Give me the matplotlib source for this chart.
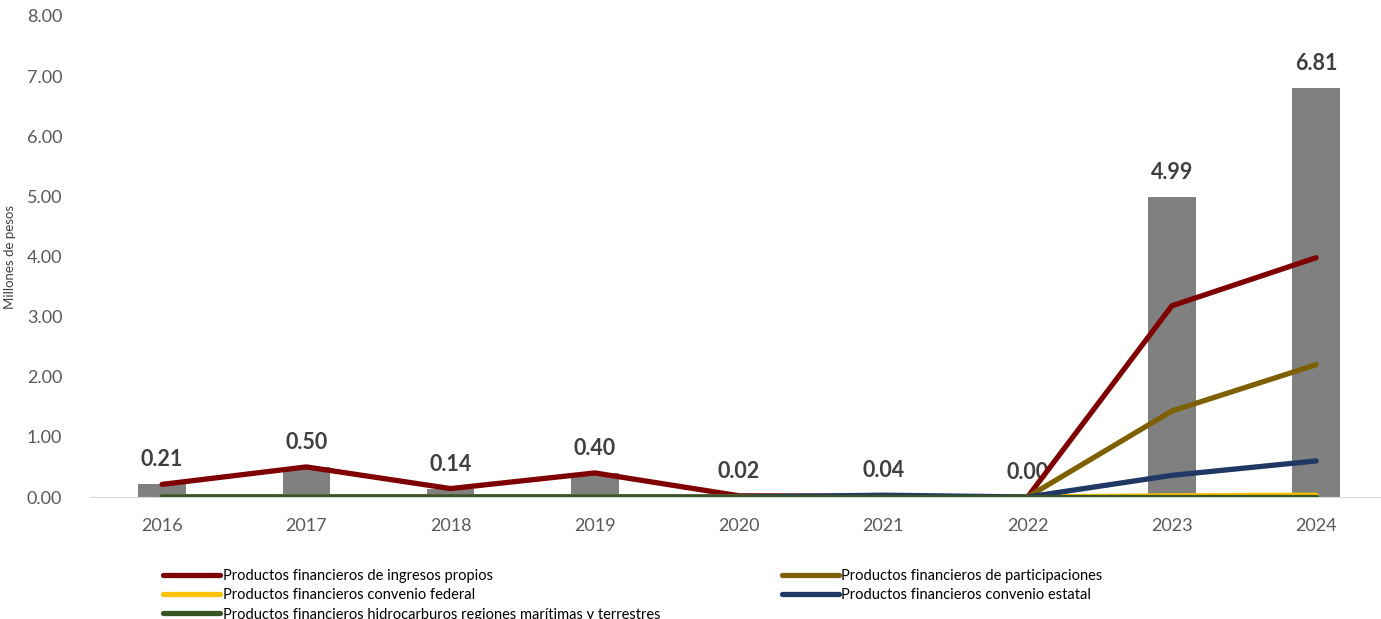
import numpy as np
import matplotlib.pyplot as plt

plt.rcParams['font.family'] = ['Lato', 'DejaVu Sans']

years = ['2016', '2017', '2018', '2019', '2020', '2021', '2022', '2023', '2024']
total = [0.21, 0.50, 0.14, 0.40, 0.02, 0.04, 0.00, 4.99, 6.81]
ingresos_propios = [0.21, 0.50, 0.14, 0.40, 0.02, 0.01, 0.00, 3.18, 3.98]
participaciones = [0.00, 0.00, 0.00, 0.00, 0.00, 0.00, 0.00, 1.43, 2.20]
convenio_federal = [0.00, 0.00, 0.00, 0.00, 0.00, 0.00, 0.00, 0.02, 0.03]
convenio_estatal = [0.00, 0.00, 0.00, 0.00, 0.00, 0.03, 0.00, 0.36, 0.60]
hidrocarburos = [0.00, 0.00, 0.00, 0.00, 0.00, 0.00, 0.00, 0.00, 0.00]

x = np.arange(len(years))

fig = plt.figure(figsize=(13.81, 6.19), dpi=100)
ax = fig.add_axes([90 / 1381, 1 - 497 / 619, 1291 / 1381, 481 / 619])

ax.bar(x, total, width=0.33, color='#808080', zorder=2)
for xi, v in zip(x, total):
    ax.annotate('%.2f' % v, (xi, v), xytext=(0, 10), textcoords='offset points',
                ha='center', va='bottom', fontsize=15.5, fontweight='bold', color='#404040')

lw = 3.8
l1, = ax.plot(x, ingresos_propios, color='#7F0000', lw=lw, solid_capstyle='round', zorder=3)
l2, = ax.plot(x, participaciones, color='#7F6000', lw=lw, solid_capstyle='round', zorder=3)
l3, = ax.plot(x, convenio_federal, color='#FFC000', lw=lw, solid_capstyle='round', zorder=3)
l4, = ax.plot(x, convenio_estatal, color='#1F3864', lw=lw, solid_capstyle='round', zorder=3)
l5, = ax.plot(x, hidrocarburos, color='#375623', lw=lw, solid_capstyle='round', zorder=4)

ax.set_xlim(-0.5, 8.45)
ax.set_ylim(0, 8)
ax.set_yticks(np.arange(0, 9, 1))
ax.set_yticklabels(['%.2f' % t for t in np.arange(0, 9, 1)])
ax.set_xticks(x)
ax.set_xticklabels(years)
ax.tick_params(axis='both', length=0, labelsize=13, labelcolor='#595959')
ax.tick_params(axis='y', pad=20)
ax.tick_params(axis='x', pad=15)
for s in ['top', 'right', 'left']:
    ax.spines[s].set_visible(False)
ax.spines['bottom'].set_color('#D9D9D9')
ax.set_ylabel('Millones de pesos', fontsize=9.5, color='#404040')
ax.yaxis.set_label_coords(-74 / 1291, 0.5)

handles = [l1, l3, l5, l2, l4]
labels = ['Productos financieros de ingresos propios',
          'Productos financieros convenio federal',
          'Productos financieros hidrocarburos regiones marítimas y terrestres',
          'Productos financieros de participaciones',
          'Productos financieros convenio estatal']
fig.legend(handles, labels, ncol=2, loc='upper left', bbox_to_anchor=(156 / 1381, 1 - 562 / 619),
           frameon=False, fontsize=10.5, handlelength=3.9, handletextpad=0.2,
           labelspacing=0.35, columnspacing=8.3, borderpad=0)

fig.savefig('out.png', dpi=100)
